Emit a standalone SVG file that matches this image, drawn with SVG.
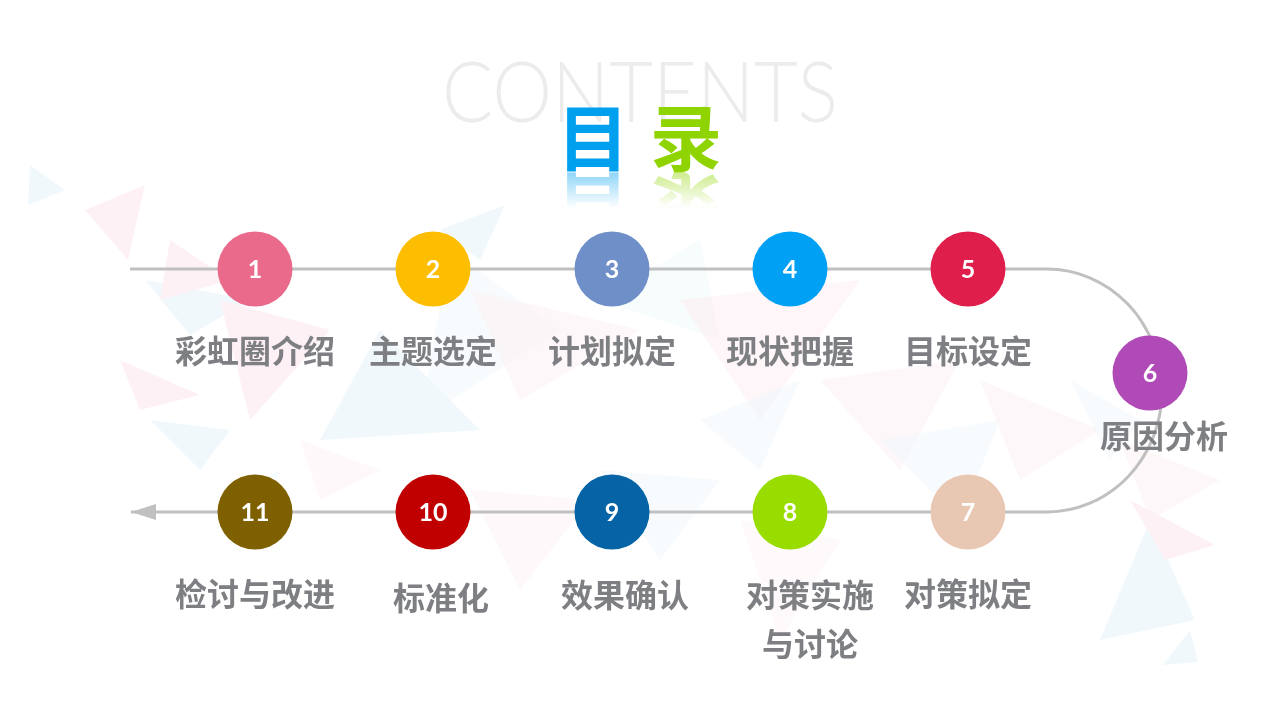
<svg xmlns="http://www.w3.org/2000/svg" width="1280" height="720" viewBox="0 0 1280 720">
<style>
.lbl{font-family:"Noto Sans CJK SC","Noto Sans",sans-serif;font-weight:700;font-size:32px;fill:#7d7f82;text-anchor:middle}
.num{font-family:Lato,"Open Sans",sans-serif;font-weight:700;font-size:25px;fill:#ffffff;text-anchor:middle}
.conn{fill:none;stroke:#c0c0c0;stroke-width:3}
.tt{font-family:"Noto Sans CJK SC",sans-serif;font-weight:700;font-size:72px}
.tp{fill:#fadbe3}
.tb{fill:#d8edf8}
</style>
<defs>
<marker id="arr" markerUnits="userSpaceOnUse" markerWidth="26" markerHeight="18" refX="25" refY="8" orient="auto">
<path d="M0,0 L25,8 L0,16 z" fill="#c0c0c0"/>
</marker>
<linearGradient id="fade" x1="0" y1="0" x2="0" y2="1">
<stop offset="0" stop-color="#fff" stop-opacity="0.45"/>
<stop offset="1" stop-color="#fff" stop-opacity="0"/>
</linearGradient>
<mask id="refl" maskUnits="userSpaceOnUse" x="0" y="168" width="1280" height="50">
<rect x="0" y="172" width="1280" height="36" fill="url(#fade)"/>
</mask>
</defs>
<rect width="1280" height="720" fill="#ffffff"/>
<g id="background" opacity="0.38">
<polygon class="tb" points="30,165 65,190 28,205"/>
<polygon class="tp" points="85,210 145,185 128,260"/>
<polygon class="tb" points="145,280 250,300 190,335"/>
<polygon class="tp" points="120,360 200,395 140,410"/>
<polygon class="tb" points="150,420 230,430 200,470"/>
<polygon class="tp" points="170,240 230,280 160,300"/>
<polygon class="tb" points="440,230 505,205 480,260"/>
<polygon class="tp" points="220,300 330,330 250,420"/>
<polygon class="tb" points="380,330 480,430 320,440"/>
<polygon class="tb" points="450,250 560,330 420,420" opacity="0.6"/>
<polygon class="tp" points="470,290 640,330 520,400" opacity="0.6"/>
<polygon class="tb" points="600,300 700,240 720,340" opacity="0.5"/>
<polygon class="tp" points="680,300 860,280 760,420" opacity="0.7"/>
<polygon class="tb" points="700,420 800,380 760,470" opacity="0.6"/>
<polygon class="tp" points="820,380 960,360 900,470" opacity="0.6"/>
<polygon class="tb" points="880,440 1000,420 960,520" opacity="0.6"/>
<polygon class="tp" points="980,380 1100,430 1020,480" opacity="0.6"/>
<polygon class="tb" points="1070,380 1140,420 1110,460" opacity="0.6"/>
<polygon class="tp" points="1120,440 1220,480 1150,520" opacity="0.6"/>
<polygon class="tb" points="600,470 720,480 660,560" opacity="0.6"/>
<polygon class="tp" points="470,490 590,500 520,590" opacity="0.5"/>
<polygon class="tp" points="740,520 840,540 780,640" opacity="0.4"/>
<polygon class="tb" points="1150,520 1100,640 1195,620"/>
<polygon class="tp" points="1130,500 1215,545 1165,560"/>
<polygon class="tb" points="1190,630 1163,665 1198,662"/>
<polygon class="tp" points="300,440 380,470 320,500" opacity="0.5"/>
<polygon class="tb" points="220,500 280,470 260,540" opacity="0.4"/>
</g>
<g id="title">
<text x="640" y="122" font-family="Lato,'Open Sans',sans-serif" font-weight="300" font-size="84" fill="#ececec" text-anchor="middle" textLength="396" lengthAdjust="spacingAndGlyphs">CONTENTS</text>
<text class="tt" x="557" y="165" fill="#00a0ee">目</text>
<text class="tt" x="650" y="165" fill="#8fd400">录</text>
<g mask="url(#refl)">
<g transform="translate(0,344) scale(1,-1)">
<text class="tt" x="557" y="165" fill="#00a0ee">目</text>
<text class="tt" x="650" y="165" fill="#8fd400">录</text>
</g>
</g>
</g>
<g id="connectors">
<path class="conn" d="M130,269 H1047 A115,121.5 0 0 1 1047,512 H131" marker-end="url(#arr)"/>
</g>
<g id="node1"><circle cx="255" cy="269" r="37.5" fill="#e96a8a"/><text class="num" x="255" y="278">1</text><text class="lbl" x="255" y="363">彩虹圈介绍</text></g>
<g id="node2"><circle cx="433" cy="269" r="37.5" fill="#fdbd00"/><text class="num" x="433" y="278">2</text><text class="lbl" x="433" y="363">主题选定</text></g>
<g id="node3"><circle cx="612" cy="269" r="37.5" fill="#6f8fc9"/><text class="num" x="612" y="278">3</text><text class="lbl" x="612" y="363">计划拟定</text></g>
<g id="node4"><circle cx="790" cy="269" r="37.5" fill="#00a0f4"/><text class="num" x="790" y="278">4</text><text class="lbl" x="790" y="363">现状把握</text></g>
<g id="node5"><circle cx="968" cy="269" r="37.5" fill="#e01e4c"/><text class="num" x="968" y="278">5</text><text class="lbl" x="968" y="363">目标设定</text></g>
<g id="node6"><circle cx="1150" cy="373" r="37.5" fill="#b04ab6"/><text class="num" x="1150" y="382">6</text><text class="lbl" x="1164" y="448">原因分析</text></g>
<g id="node7"><circle cx="968" cy="512" r="37.5" fill="#e8c8b2"/><text class="num" x="968" y="521">7</text><text class="lbl" x="968" y="606">对策拟定</text></g>
<g id="node8"><circle cx="790" cy="512" r="37.5" fill="#99dc00"/><text class="num" x="790" y="521">8</text><text class="lbl" x="810" y="607">对策实施</text><text class="lbl" x="810" y="656">与讨论</text></g>
<g id="node9"><circle cx="612" cy="512" r="37.5" fill="#0563a6"/><text class="num" x="612" y="521">9</text><text class="lbl" x="625" y="607">效果确认</text></g>
<g id="node10"><circle cx="433" cy="512" r="37.5" fill="#c00000"/><text class="num" x="433" y="521">10</text><text class="lbl" x="441" y="610">标准化</text></g>
<g id="node11"><circle cx="255" cy="512" r="37.5" fill="#7f6000"/><text class="num" x="255" y="521">11</text><text class="lbl" x="255" y="606">检讨与改进</text></g>
</svg>
